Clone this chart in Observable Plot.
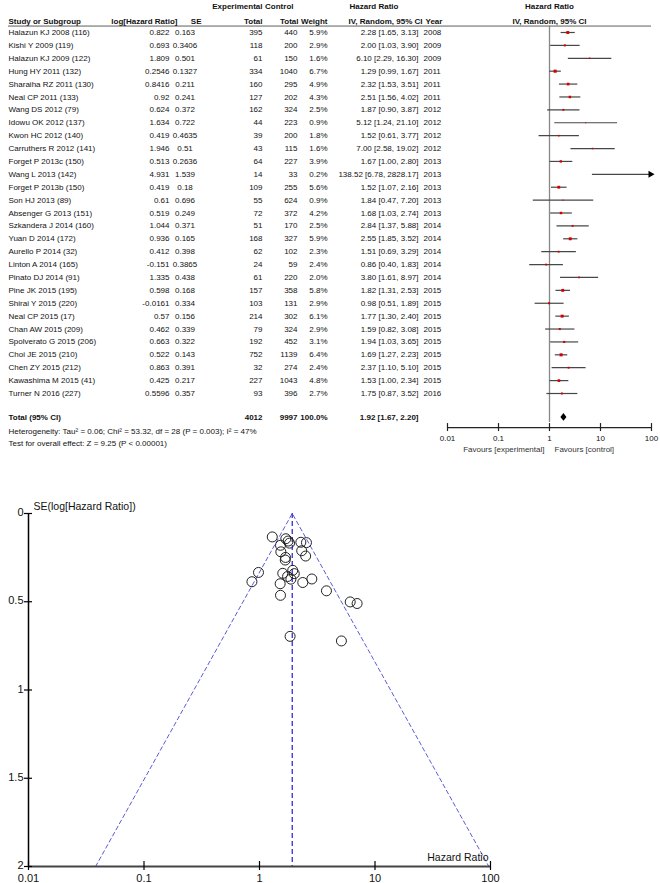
<!DOCTYPE html>
<html><head><meta charset="utf-8">
<script src="https://cdn.jsdelivr.net/npm/d3@7"></script>
<script src="https://cdn.jsdelivr.net/npm/@observablehq/plot@0.6"></script>
<style>
html,body{margin:0;padding:0;background:#fff;}
#chart svg{display:block;}
</style></head><body><div id="chart"></div>
<script>
// ---------- DATA ----------
const studies = ["Halazun KJ 2008 (116)","Kishi Y 2009 (119)","Halazun KJ 2009 (122)","Hung HY 2011 (132)","Sharaiha RZ 2011 (130)","Neal CP 2011 (133)","Wang DS 2012 (79)","Idowu OK 2012 (137)","Kwon HC 2012 (140)","Carruthers R 2012 (141)","Forget P 2013c (150)","Wang L 2013 (142)","Forget P 2013b (150)","Son HJ 2013 (89)","Absenger G 2013 (151)","Szkandera J 2014 (160)","Yuan D 2014 (172)","Aurello P 2014 (32)","Linton A 2014 (165)","Pinato DJ 2014 (91)","Pine JK 2015 (195)","Shirai Y 2015 (220)","Neal CP 2015 (17)","Chan AW 2015 (209)","Spolverato G 2015 (206)","Choi JE 2015 (210)","Chen ZY 2015 (212)","Kawashima M 2015 (41)","Turner N 2016 (227)"];
const logHR = ["0.822","0.693","1.809","0.2546","0.8416","0.92","0.624","1.634","0.419","1.946","0.513","4.931","0.419","0.61","0.519","1.044","0.936","0.412","-0.151","1.335","0.598","-0.0161","0.57","0.462","0.663","0.522","0.863","0.425","0.5596"];
const seVals = ["0.163","0.3406","0.501","0.1327","0.211","0.241","0.372","0.722","0.4635","0.51","0.2636","1.539","0.18","0.696","0.249","0.371","0.165","0.398","0.3865","0.438","0.168","0.334","0.156","0.339","0.322","0.143","0.391","0.217","0.357"];
const expTotal = [395,118,61,334,160,127,162,44,39,43,64,14,109,55,72,51,168,62,24,61,157,103,214,79,192,752,32,227,93];
const ctrlTotal = [440,200,150,1040,295,202,324,223,200,115,227,33,255,624,372,170,327,102,59,220,358,131,302,324,452,1139,274,1043,396];
const weight = [5.9,2.9,1.6,6.7,4.9,4.3,2.5,0.9,1.8,1.6,3.9,0.2,5.6,0.9,4.2,2.5,5.9,2.3,2.4,2.0,5.8,2.9,6.1,2.9,3.1,6.4,2.4,4.8,2.7];
const hrVals = [2.28,2.00,6.10,1.29,2.32,2.51,1.87,5.12,1.52,7.00,1.67,138.52,1.52,1.84,1.68,2.84,2.55,1.51,0.86,3.80,1.82,0.98,1.77,1.59,1.94,1.69,2.37,1.53,1.75];
const ciLow = [1.65,1.03,2.29,0.99,1.53,1.56,0.90,1.24,0.61,2.58,1.00,6.78,1.07,0.47,1.03,1.37,1.85,0.69,0.40,1.61,1.31,0.51,1.30,0.82,1.03,1.27,1.10,1.00,0.87];
const ciHigh = [3.13,3.90,16.30,1.67,3.51,4.02,3.87,21.10,3.77,19.02,2.80,2828.17,2.16,7.20,2.74,5.88,3.52,3.29,1.83,8.97,2.53,1.89,2.40,3.08,3.65,2.23,5.10,2.34,3.52];
const years = [2008,2009,2009,2011,2011,2011,2012,2012,2012,2012,2013,2013,2013,2013,2013,2014,2014,2014,2014,2014,2015,2015,2015,2015,2015,2015,2015,2015,2016];

const totalLabel = "Total (95% CI)";
const totalExp = 4012, totalCtrl = 9997, totalWeight = "100.0%";
const pooled = {hr: 1.92, lo: 1.67, hi: 2.20};
const hetText = "Heterogeneity: Tau² = 0.06; Chi² = 53.32, df = 28 (P = 0.003); I² = 47%";
const testText = "Test for overall effect: Z = 9.25 (P < 0.00001)";
const forestTicks = [0.01, 0.1, 1, 10, 100];
const forestTickLabels = ["0.01", "0.1", "1", "10", "100"];
const favours = ["Favours [experimental]", "Favours [control]"];
const seTicks = [0, 0.5, 1, 1.5, 2];
const seTickLabels = ["0", "0.5", "1", "1.5", "2"];
const hrTicks = [0.01, 0.1, 1, 10, 100];
const hrTickLabels = ["0.01", "0.1", "1", "10", "100"];
const funnelYLabel = "SE(log[Hazard Ratio])";
const funnelXLabel = "Hazard Ratio";

// header cells: text, px, anchor, line
const headerCells = [
  ["Experimental", 262, "end", 1], ["Control", 293, "end", 1], ["Hazard Ratio", 349, "start", 1], ["Hazard Ratio", 549, "middle", 1],
  ["Study or Subgroup", 8, "start", 2], ["log[Hazard Ratio]", 177, "end", 2], ["SE", 201, "end", 2], ["Total", 262, "end", 2],
  ["Total", 298, "end", 2], ["Weight", 327, "end", 2], ["IV, Random, 95% CI", 422, "end", 2], ["Year", 425, "start", 2],
  ["IV, Random, 95% CI", 549, "middle", 2]
];

// ---------- BUILD ----------
const FONT = "'Liberation Sans', Arial, Helvetica, sans-serif";
const FS = 8;
const rows = studies.map((s, i) => ({
  i, study: s, loghr: logHR[i], se: +seVals[i], seText: seVals[i], exp: expTotal[i], ctrl: ctrlTotal[i],
  w: weight[i], hr: hrVals[i], lo: ciLow[i], hi: ciHigh[i], year: years[i],
  ci: `${hrVals[i].toFixed(2)} [${ciLow[i].toFixed(2)}, ${ciHigh[i].toFixed(2)}]`
}));

const ML = 447;
const R = {h1: -2.0, h2: -0.85, sep: -0.5, total: 29.86, het: 30.95, test: 31.88, axis: 30.64, tickLab: 31.45, fav: 32.3};

function col(data, y, text, px, anchor, extra = {}) {
  return Plot.text(data, {y, text, frameAnchor: "left", dx: px - ML, textAnchor: anchor, fontSize: FS, fill: "#111", ...extra});
}

const headerMarks = headerCells.map(([t, px, anchor, line]) =>
  col([t], () => line === 1 ? R.h1 : R.h2, d => d, px, anchor, {fontWeight: "bold"}));

const fmax = 100;
const forest = Plot.plot({
  width: 660, height: 460,
  marginLeft: ML, marginRight: 9, marginTop: 0, marginBottom: 0,
  x: {type: "log", domain: [0.01, 100], range: [447, 651], axis: null},
  y: {domain: [0, 28], range: [32, 32 + 28 * 12.893], axis: null},
  r: {type: "sqrt", domain: [0, 6.7], range: [0, 1.75]},
  style: {fontFamily: FONT, fontSize: FS + "px", background: "#fff", overflow: "visible"},
  marks: [
    ...headerMarks,
    Plot.ruleY([R.sep], {insetLeft: -(ML - 8), stroke: "#333", strokeWidth: 0.8}),
    col(rows, "i", "study", 8, "start"),
    col(rows, "i", "loghr", 169, "end"),
    col(rows, "i", "seText", 184.5, "middle"),
    col(rows, "i", d => String(d.exp), 262, "end"),
    col(rows, "i", d => String(d.ctrl), 297, "end"),
    col(rows, "i", d => d.w.toFixed(1) + "%", 327, "end"),
    col(rows, "i", "ci", 418, "end"),
    col(rows, "i", d => String(d.year), 423, "start"),
    // totals
    col([totalLabel], () => R.total, d => d, 8, "start", {fontWeight: "bold"}),
    col([totalExp], () => R.total, d => String(d), 262, "end", {fontWeight: "bold"}),
    col([totalCtrl], () => R.total, d => String(d), 297, "end", {fontWeight: "bold"}),
    col([totalWeight], () => R.total, d => d, 327, "end", {fontWeight: "bold"}),
    col([pooled], () => R.total, d => `${d.hr.toFixed(2)} [${d.lo.toFixed(2)}, ${d.hi.toFixed(2)}]`, 418, "end", {fontWeight: "bold"}),
    col([hetText], () => R.het, d => d, 8, "start"),
    col([testText], () => R.test, d => d, 8, "start"),
    // line of no effect
    Plot.ruleX([1], {y1: R.sep, y2: 30.25, stroke: "#888", strokeWidth: 1.3}),
    // CIs
    Plot.link(rows.filter(d => d.hi <= fmax), {x1: "lo", x2: "hi", y1: "i", y2: "i", stroke: "#474747", strokeWidth: 1.2}),
    Plot.link(rows.filter(d => d.hi > fmax), {x1: "lo", x2: d => Math.min(d.hi, fmax), y1: "i", y2: "i", stroke: "#474747", strokeWidth: 1.2}),
    Plot.dot(rows.filter(d => d.hi > fmax), {x: d => Math.min(d.hi, fmax), y: "i", symbol: "triangle", rotate: 90, r: 2.6, fill: "#000", dx: -1}),
    Plot.dot(rows.filter(d => d.hr <= fmax), {x: "hr", y: "i", r: "w", symbol: "square", fill: "#d40000"}),
    // pooled diamond
    Plot.areaX([
      {y: R.total - 0.3, x1: pooled.hr, x2: pooled.hr},
      {y: R.total, x1: pooled.lo, x2: pooled.hi},
      {y: R.total + 0.3, x1: pooled.hr, x2: pooled.hr}
    ], {y: "y", x1: "x1", x2: "x2", fill: "#000", curve: "linear"}),
    // axis
    Plot.ruleY([R.axis], {x1: 0.01, x2: 100, stroke: "#222", strokeWidth: 1.2}),
    Plot.ruleX(forestTicks, {x: d => d, y1: R.axis, y2: R.axis, insetTop: -4, insetBottom: -4, stroke: "#222", strokeWidth: 1.2}),
    Plot.text(forestTicks, {x: d => d, y: () => R.tickLab, text: (d, i) => forestTickLabels[i], fontSize: FS, fill: "#111"}),
    Plot.text([favours[0]], {x: 1, y: () => R.fav, text: d => d, textAnchor: "end", dx: -5, fontSize: FS, fill: "#333"}),
    Plot.text([favours[1]], {x: 1, y: () => R.fav, text: d => d, textAnchor: "start", dx: 5, fontSize: FS, fill: "#333"})
  ]
});

// funnel plot
const m = Math.log(pooled.hr);
const seMax = seTicks[seTicks.length - 1];
const funnelEdge = [
  {x: Math.exp(m - 1.96 * seMax), y: seMax},
  {x: pooled.hr, y: 0},
  {x: Math.exp(m + 1.96 * seMax), y: seMax}
];
const funnel = Plot.plot({
  width: 660, height: 423,
  marginLeft: 28, marginRight: 170, marginTop: 53, marginBottom: 17,
  x: {type: "log", domain: [0.01, 100], axis: null},
  y: {domain: [0, 2], reverse: true, axis: null},
  style: {fontFamily: FONT, fontSize: "11px", background: "#fff", overflow: "visible"},
  marks: [
    Plot.line(funnelEdge, {x: "x", y: "y", stroke: "#5c5cd6", strokeWidth: 1, strokeDasharray: "4,3"}),
    Plot.ruleX([pooled.hr], {y1: 0, y2: 2, stroke: "#1f1fcc", strokeWidth: 1.2, strokeDasharray: "5,3"}),
    Plot.dot(rows.filter(d => d.hr <= 100), {x: "hr", y: "se", r: 5, stroke: "#222", strokeWidth: 1, fill: "none"}),
    Plot.ruleX([0.01], {y1: 0, y2: 2, stroke: "#000", strokeWidth: 1.5}),
    Plot.ruleY([2], {x1: 0.01, x2: 100, stroke: "#444", strokeWidth: 2}),
    Plot.ruleY(seTicks, {y: d => d, x1: 0.01, x2: 0.01, insetLeft: -4, insetRight: -4, stroke: "#000", strokeWidth: 1.2}),
    Plot.ruleX(hrTicks, {x: d => d, y1: 2, y2: 2, insetTop: -5, insetBottom: -4, stroke: "#000", strokeWidth: 1.2}),
    Plot.text(seTicks, {x: 0.01, y: d => d, text: (d, i) => seTickLabels[i], textAnchor: "end", dx: -5, dy: -1, fontSize: 11, fill: "#111"}),
    Plot.text(hrTicks, {x: d => d, y: 2, text: (d, i) => hrTickLabels[i], dy: 12, fontSize: 11, fill: "#111"}),
    Plot.text([funnelYLabel], {x: 0.01, y: 0, text: d => d, textAnchor: "start", dx: 5, dy: -7, fontSize: 10.5, fill: "#111"}),
    Plot.text([funnelXLabel], {x: 100, y: 2, text: d => d, textAnchor: "end", dx: -2, dy: -9, fontSize: 10.5, fill: "#111"})
  ]
});

const c = document.getElementById("chart");
c.appendChild(forest);
c.appendChild(funnel);
</script>
</body></html>
